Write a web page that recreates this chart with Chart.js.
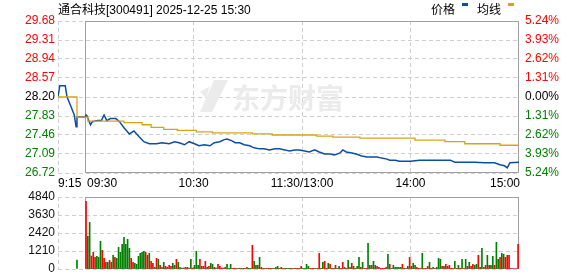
<!DOCTYPE html>
<html><head><meta charset="utf-8">
<script src="https://cdn.jsdelivr.net/npm/chart.js@4.4.1/dist/chart.umd.min.js"></script>
<style>
html,body{margin:0;padding:0;background:#fff;}
#wrap{position:relative;width:578px;height:276px;overflow:hidden;background:#fff;}
#c1{position:absolute;left:0;top:0;}
#c2{position:absolute;left:0;top:190px;}
</style></head><body>
<div id="wrap"><canvas id="c1" width="578" height="190"></canvas><canvas id="c2" width="578" height="86"></canvas></div>
<script>
// ---- data ----
const stockName = '通合科技';
const stockInfo = '[300491] 2025-12-25 15:30';
const legendLabels = ['价格', '均线'];
const prevClose = 28.20;
const priceTicks = [26.72, 27.09, 27.46, 27.83, 28.20, 28.57, 28.94, 29.31, 29.68];
const pctLabels = ['5.24%', '3.93%', '2.62%', '1.31%', '0.00%', '1.31%', '2.62%', '3.93%', '5.24%'];
const timeTicks = [-15, 0, 60, 120, 180, 240];
const timeLabels = ['9:15', '09:30', '10:30', '11:30/13:00', '14:00', '15:00'];
const volTicks = [0, 1210, 2420, 3630, 4840];

// minutes from 09:30 (lunch break removed), negative = pre-market auction
const priceTimes = [-15,-14,-11,-10,-8,-6,-5,-4.5,0,0.5,
  1,3,4,7,9,10.5,12,14,17,19,
  21.5,24.5,27,30,32.5,35.5,39.5,42.5,46.5,49.5,
  52,55,57.5,60.5,63,66,69,71.5,74.5,77,
  78.5,81,83,85.5,88,91,93.5,96.5,99,102,
  105,107.5,110.5,113,116,118.5,121.5,124,127,129.5,
  132.5,135.5,138,141,142.5,144.5,147.5,150,153,156,
  158.5,161.5,164,167,168.5,171.5,174,180,185,190.5,
  196,202,204.5,210,215.5,221,226.5,229.5,232,233.5,
  235,240];
const prices = [28.20,28.42,28.42,28.20,28.03,27.85,27.62,27.81,27.81,27.85,
  27.83,27.66,27.72,27.74,27.74,27.85,27.74,27.78,27.78,27.72,
  27.60,27.48,27.54,27.42,27.33,27.29,27.29,27.31,27.29,27.33,
  27.31,27.27,27.33,27.29,27.25,27.27,27.25,27.31,27.33,27.37,
  27.38,27.35,27.31,27.31,27.27,27.25,27.21,27.19,27.19,27.17,
  27.19,27.19,27.17,27.15,27.17,27.17,27.15,27.13,27.17,27.13,
  27.09,27.09,27.07,27.11,27.17,27.13,27.11,27.09,27.05,27.03,
  27.03,27.03,27.01,26.99,26.97,26.97,26.95,26.95,26.97,26.97,
  26.97,26.97,26.93,26.93,26.93,26.92,26.92,26.88,26.86,26.82,
  26.92,26.93];

const avgTimes = [-15,-4.5,1.5,21.5,31.5,36.5,43.5,51,61.5,70.5,92.5,103.5,128,137,152,182.5,199,210,229.5,240];
const avgPrices = [28.20,27.81,27.73,27.70,27.66,27.61,27.57,27.55,27.52,27.50,27.48,27.46,27.44,27.42,27.40,27.36,27.33,27.29,27.26,27.26];

// per-minute volume, minute 0 = 09:30 ... 239 = 15:00
const volumes = [
  4547,2195,3136,874,1120,784,851,784,1859,1254,
  717,448,448,582,448,918,784,717,1456,1120,
  1658,2128,1658,1994,1389,717,448,381,314,851,
  1053,1120,1187,1120,918,1053,515,381,112,717,
  650,246,112,448,179,112,246,179,381,246,
  650,448,112,67,67,112,112,67,650,67,
  246,1187,246,650,179,179,515,112,179,381,
  314,112,67,314,179,67,67,112,314,45,
  314,45,45,45,45,45,45,45,45,112,
  45,45,1590,515,246,246,784,112,45,45,
  45,45,45,45,45,112,179,45,112,45,
  45,45,45,45,45,45,45,45,45,179,
  45,45,314,179,45,45,45,45,45,1053,
  45,448,515,45,381,314,45,45,246,45,
  179,45,448,112,45,582,112,381,179,45,
  179,784,112,448,45,45,1725,246,246,515,
  246,179,112,45,45,45,112,986,314,45,
  246,112,112,112,112,314,45,45,179,784,
  179,381,246,112,45,45,1053,45,45,179,
  448,45,112,45,112,717,650,179,179,314,
  179,246,45,45,515,45,246,45,650,45,
  650,179,448,179,314,246,314,918,112,1389,
  112,246,918,246,246,851,246,1792,650,784,
  1053,986,784,918,918,45,0,0,0,1658];
// r = up (red), g = down (green)
const volDirs = (
  'rggrrrgggr' + 'rggrrgrggg' + 'gggggrrggg' + 'gggrrgrrgr' +
  'grggrrrrgg' + 'rgggrrrrgr' + 'gggrgrrgrg' + 'grgrrrrrgg' +
  'grrgrgrgrr' + 'ggrggrgrrg' + 'rgrgrggrrg' + 'rggrgrrrgr' +
  'ggggrrggrr' + 'ggrrgrgrrg' + 'grrgrgrrgr' + 'ggrgrrggrg' +
  'grrrrrggrg' + 'gggggrgrgr' + 'rggrrrgrrr' + 'grgrgggrgr' +
  'rrrrgrgrgr' + 'grgrrggrgg' + 'rrgrggrggr' + 'ggrrrrrrrr').split('');
const preAuctionTime = -5;      // 09:25
const preAuctionVolume = 605;
const preAuctionDir = 'g';

// ---- styles ----
const RED = '#ff0000', GREEN = '#008000', BLUE = '#0b4fa3', GOLD = '#daa21c';
const GRID = '#cfcfcf', FRAME = '#a0a0a0';
const FONT = '"Liberation Sans", Arial, sans-serif';
const CJK = '"Noto Sans CJK SC", sans-serif';

const tickSetter = vals => s => { s.ticks = vals.map(v => ({ value: v })); };
const fitWidth = w => s => { s.width = w; s.paddingTop = 0; s.paddingBottom = 0; };
const xGridColor = c => (c.tick && (c.tick.value === 0 || c.tick.value === 240)) ? 'rgba(0,0,0,0)' : GRID;

const framePlugin = {
  id: 'frame',
  beforeDatasetsDraw(chart) {
    const { ctx, chartArea: a, scales } = chart;
    const x0 = Math.round(scales.x.getPixelForValue(0)) + 0.5;
    const x1 = Math.round(scales.x.getPixelForValue(240)) - 0.5;
    ctx.save();
    ctx.strokeStyle = FRAME; ctx.lineWidth = 1;
    ctx.strokeRect(x0, Math.round(a.top) + 0.5, x1 - x0, Math.round(a.bottom) - Math.round(a.top) - 1);
    ctx.restore();
  }
};

const watermarkPlugin = {
  id: 'watermark',
  beforeDatasetsDraw(chart) {
    const ctx = chart.ctx;
    ctx.save();
    ctx.fillStyle = '#ebebeb';
    ctx.beginPath();
    ctx.moveTo(214, 80); ctx.lineTo(228, 80); ctx.lineTo(212, 112); ctx.lineTo(200, 112);
    ctx.closePath(); ctx.fill();
    ctx.beginPath();
    ctx.moveTo(200, 92); ctx.lineTo(210, 86); ctx.lineTo(206, 98); ctx.closePath(); ctx.fill();
    ctx.font = 'bold 28px ' + CJK;
    ctx.textBaseline = 'alphabetic';
    ctx.fillText('东方财富', 232, 109);
    ctx.restore();
  }
};

const textPlugin = {
  id: 'texts',
  afterDraw(chart) {
    const { ctx, scales } = chart;
    ctx.save();
    ctx.fillStyle = '#000';
    ctx.textBaseline = 'alphabetic';
    ctx.font = '12px ' + CJK;
    ctx.textAlign = 'left';
    ctx.fillText(stockName, 58, 14);
    ctx.font = '12px ' + FONT;
    ctx.fillText(stockInfo, 106, 14);
    ctx.font = '12px ' + CJK;
    ctx.fillText(legendLabels[0], 431, 14);
    ctx.fillText(legendLabels[1], 477, 14);
    ctx.fillStyle = BLUE; ctx.fillRect(462, 3, 6, 3);
    ctx.fillStyle = GOLD; ctx.fillRect(508, 3, 6, 3);
    ctx.fillStyle = '#000';
    ctx.font = '12px ' + FONT;
    timeTicks.forEach((t, i) => {
      let x = scales.x.getPixelForValue(t);
      if (i === 0) { ctx.textAlign = 'left'; }
      else if (i === 1) { ctx.textAlign = 'left'; x += 2; }
      else if (i === timeTicks.length - 1) { ctx.textAlign = 'right'; x += 1; }
      else { ctx.textAlign = 'center'; }
      ctx.fillText(timeLabels[i], x, 187);
    });
    ctx.restore();
  }
};

const priceColor = v => Math.abs(v - prevClose) < 1e-6 ? '#000' : (v > prevClose ? RED : GREEN);

new Chart(document.getElementById('c1'), {
  type: 'line',
  data: {
    datasets: [
      { label: '均线', data: avgTimes.map((t, i) => ({ x: t, y: avgPrices[i] })), borderColor: GOLD, borderWidth: 1.3, pointRadius: 0, stepped: true, yAxisID: 'y' },
      { label: '价格', data: priceTimes.map((t, i) => ({ x: t, y: prices[i] })), borderColor: BLUE, borderWidth: 1.5, pointRadius: 0, tension: 0, yAxisID: 'y' }
    ]
  },
  options: {
    responsive: false, animation: false, devicePixelRatio: 1,
    layout: { padding: { top: 21, left: 0, right: 0, bottom: 0 }, autoPadding: false },
    plugins: { legend: { display: false }, tooltip: { enabled: false }, title: { display: false } },
    scales: {
      x: {
        type: 'linear', min: -15, max: 240,
        afterBuildTicks: tickSetter(timeTicks),
        afterFit: s => { s.height = 17; s.paddingLeft = 0; s.paddingRight = 0; },
        ticks: { display: false },
        grid: { color: xGridColor, drawTicks: false, lineWidth: 1 },
        border: { display: false, dash: [4, 3] }
      },
      y: {
        position: 'left', min: priceTicks[0], max: priceTicks[priceTicks.length - 1],
        afterBuildTicks: tickSetter(priceTicks),
        afterFit: fitWidth(58),
        ticks: { autoSkip: false, padding: 3, font: { size: 12, family: FONT }, color: c => priceColor(c.tick.value), callback: v => v.toFixed(2) },
        grid: { color: GRID, drawTicks: false },
        border: { display: false, dash: [4, 3] }
      },
      y2: {
        position: 'right', min: priceTicks[0], max: priceTicks[priceTicks.length - 1],
        afterBuildTicks: tickSetter(priceTicks),
        afterFit: fitWidth(59),
        ticks: { autoSkip: false, padding: 6, font: { size: 12, family: FONT }, color: c => priceColor(c.tick.value), callback: (v, i) => pctLabels[i] },
        grid: { display: false, drawTicks: false },
        border: { display: false }
      }
    }
  },
  plugins: [watermarkPlugin, framePlugin, textPlugin]
});

const volData = volumes.map((v, i) => ({ x: i + 0.5, y: v }));
const volColors = volDirs.map(d => d === 'r' ? RED : GREEN);
volData.unshift({ x: preAuctionTime + 0.5, y: preAuctionVolume });
volColors.unshift(preAuctionDir === 'r' ? RED : GREEN);

new Chart(document.getElementById('c2'), {
  type: 'bar',
  data: { datasets: [{ data: volData, backgroundColor: volColors, barThickness: 1, borderWidth: 0 }] },
  options: {
    responsive: false, animation: false, devicePixelRatio: 1,
    layout: { padding: { top: 7, left: 0, right: 59, bottom: 0 }, autoPadding: false },
    plugins: { legend: { display: false }, tooltip: { enabled: false } },
    scales: {
      x: {
        type: 'linear', min: -15, max: 240, offset: false,
        afterBuildTicks: tickSetter(timeTicks),
        afterFit: s => { s.height = 7; s.paddingLeft = 0; s.paddingRight = 0; },
        ticks: { display: false },
        grid: { color: xGridColor, drawTicks: false, offset: false },
        border: { display: false, dash: [4, 3] }
      },
      y: {
        position: 'left', min: 0, max: volTicks[volTicks.length - 1],
        afterBuildTicks: tickSetter(volTicks),
        afterFit: fitWidth(58),
        ticks: { autoSkip: false, padding: 3, font: { size: 12, family: FONT }, color: '#111', callback: v => String(v) },
        grid: { color: GRID, drawTicks: false },
        border: { display: false, dash: [4, 3] }
      }
    }
  },
  plugins: [framePlugin]
});
</script>
</body></html>
